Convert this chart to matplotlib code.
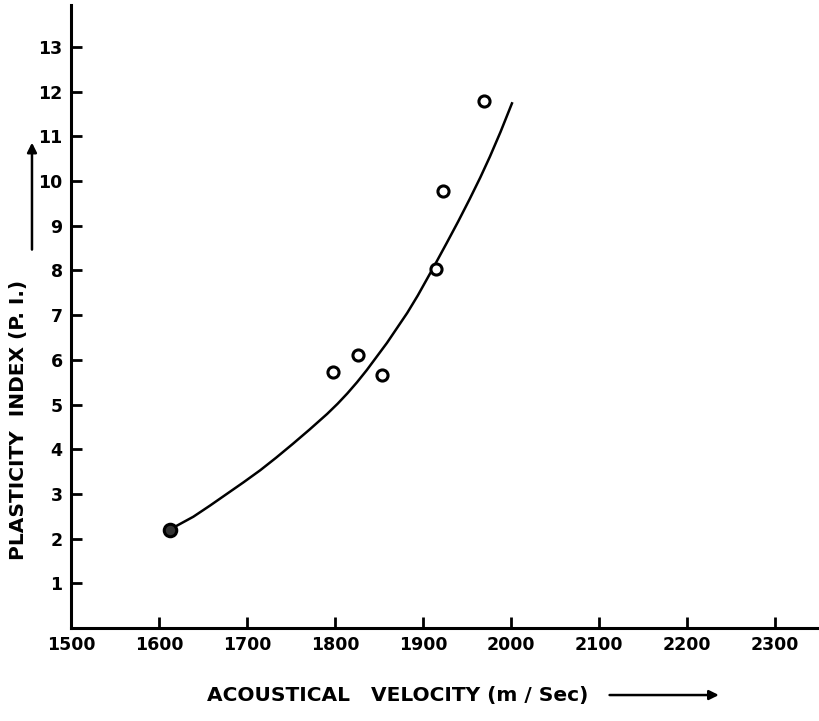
import matplotlib
matplotlib.use('Agg')
import matplotlib.pyplot as plt

# measured points (acoustical velocity m/s, plasticity index)
velocity = [1612, 1798, 1826, 1853, 1915, 1923, 1969]
plasticity = [2.2, 5.73, 6.11, 5.66, 8.03, 9.78, 11.8]

# hand-drawn trend curve
curve_v = [1612, 1625, 1639, 1658, 1677, 1696, 1715, 1733, 1752, 1771, 1791, 1803, 1814,
           1825, 1836, 1859, 1882, 1894, 1911, 1927, 1940, 1953, 1965, 1976, 1988, 2001]
curve_pi = [2.2, 2.34, 2.49, 2.74, 3.0, 3.26, 3.53, 3.81, 4.12, 4.44, 4.79, 5.02, 5.25,
            5.5, 5.77, 6.38, 7.05, 7.44, 8.04, 8.62, 9.1, 9.6, 10.08, 10.55, 11.1, 11.74]

x_ticks = [1500, 1600, 1700, 1800, 1900, 2000, 2100, 2200, 2300]
y_ticks = list(range(1, 14))

plt.rcParams['font.family'] = ['DejaVu Sans']

fig = plt.figure(figsize=(8.2, 7.21), dpi=100)
ax = fig.add_axes([0.0866, 0.129, 0.9134, 0.864])

ax.plot(curve_v, curve_pi, color='black', lw=1.8, zorder=2)
ax.plot(velocity[1:], plasticity[1:], 'o', ms=8, mfc='white', mec='black', mew=2.2, zorder=3)
ax.plot(velocity[:1], plasticity[:1], 'o', ms=9, mfc='#333333', mec='black', mew=2.2, zorder=3)

ax.set_xlim(1500, 2351)
ax.set_ylim(0, 13.94)
ax.set_xticks(x_ticks)
ax.set_yticks(y_ticks)
ax.set_xticklabels([str(v) for v in x_ticks], fontsize=12.5, fontweight='bold')
ax.set_yticklabels([str(v) for v in y_ticks], fontsize=12.5, fontweight='bold')
ax.tick_params(direction='in', length=8, width=2, pad=6)

for side in ['top', 'right']:
    ax.spines[side].set_visible(False)
for side in ['left', 'bottom']:
    ax.spines[side].set_linewidth(2.2)

# axis titles with arrows, as in the scanned figure
fig.text(0.485, 0.036, 'ACOUSTICAL   VELOCITY (m / Sec)', ha='center', va='center',
         fontsize=14.5, fontweight='bold')
ax.annotate('', xy=(0.88, 0.036), xytext=(0.74, 0.036), xycoords='figure fraction',
            arrowprops=dict(arrowstyle='-|>', color='black', lw=1.8, mutation_scale=14))

fig.text(0.022, 0.418, 'PLASTICITY  INDEX (P. I.)', ha='center', va='center',
         rotation=90, fontsize=14.5, fontweight='bold')
ax.annotate('', xy=(0.039, 0.806), xytext=(0.039, 0.65), xycoords='figure fraction',
            arrowprops=dict(arrowstyle='-|>', color='black', lw=1.8, mutation_scale=14))

fig.savefig('out.png', dpi=100)
